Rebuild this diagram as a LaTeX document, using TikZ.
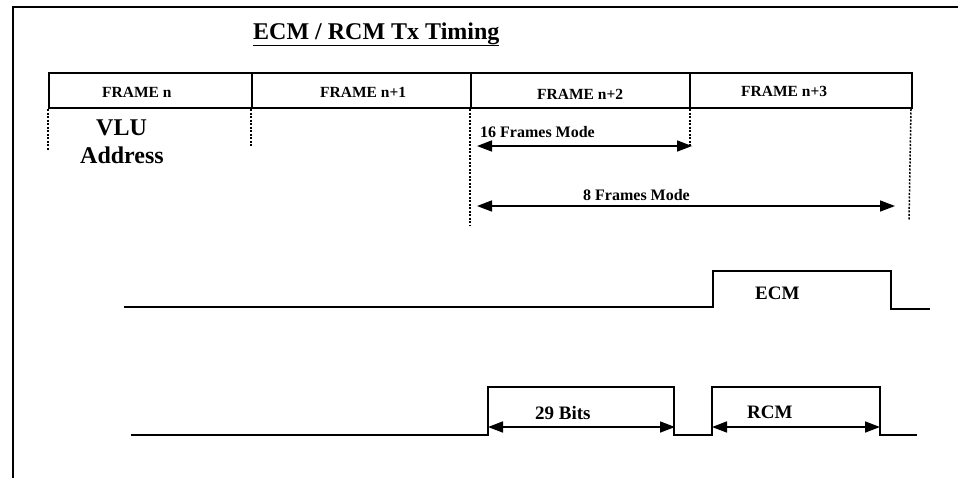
\documentclass[tikz,border=0pt]{standalone}
\usepackage{fontspec}
\setmainfont{Liberation Serif}
\usetikzlibrary{arrows.meta}
\tikzset{
  cell/.style={draw, line width=2pt, minimum height=35pt, inner sep=0pt, anchor=north west},
  lbl/.style={inner sep=0pt, anchor=base west, font=\bfseries\fontsize{15.5}{18}\selectfont},
  midlbl/.style={inner sep=0pt, anchor=base west, font=\bfseries\fontsize{16}{19}\selectfont},
  siglbl/.style={inner sep=0pt, anchor=base west, font=\bfseries\fontsize{19}{22}\selectfont},
  biglbl/.style={inner sep=0pt, anchor=base west, font=\bfseries\fontsize{24}{28}\selectfont},
  guide/.style={line width=1.5pt, dash pattern=on 2pt off 1.5pt},
  span/.style={line width=1.6pt, {Triangle[length=15pt,width=11pt]}-{Triangle[length=15pt,width=11pt]}},
  signal/.style={line width=2pt, line join=miter},
}
\begin{document}
\begin{tikzpicture}[x=1pt,y=-1pt]
\clip (0,0) rectangle (958,477);
\fill[white] (0,0) rectangle (958,477);
\draw[line width=1.6pt] (13,7) rectangle (975,495);
% title
\node[biglbl] (title) at (253,39) {\underline{ECM / RCM Tx Timing}};
% frame cells
\node[cell, minimum width=203pt] (f0) at (48,72) {};
\node[cell, minimum width=219pt] (f1) at (251,72) {};
\node[cell, minimum width=219pt] (f2) at (470,72) {};
\node[cell, minimum width=222pt] (f3) at (689,72) {};
\node[lbl] (t0) at (102,97) {FRAME n};
\node[lbl] (t1) at (320,97) {FRAME n+1};
\node[lbl] (t2) at (537,99) {FRAME n+2};
\node[lbl] (t3) at (741,96.5) {FRAME n+3};
% VLU address
\node[biglbl] (vlu) at (96,135) {VLU};
\node[biglbl] (addr) at (80,163) {Address};
% dotted guides
\coordinate (g0) at (48,150);
\coordinate (g1) at (251,147);
\coordinate (g2) at (470,225);
\coordinate (g3) at (690,147);
\coordinate (g4) at (909,220);
\draw[guide] (f0.south west) -- (g0);
\draw[guide] (f1.south west) -- (g1);
\draw[guide] (f2.south west) -- (g2);
\draw[guide] (f3.south west) ++(1,0) -- (g3);
\draw[guide] (f3.south east) ++(-2,0) -- (g4);
% mode spans
\node[midlbl] (m16) at (480,137) {16 Frames Mode};
\node[midlbl] (m8) at (583,200) {8 Frames Mode};
\coordinate (a16l) at (477,146);
\coordinate (a16r) at (692,146);
\coordinate (a8l) at (477,206);
\coordinate (a8r) at (895,206);
\draw[span] (a16l) -- (a16r);
\draw[span] (a8l) -- (a8r);
% ECM signal
\coordinate (e0) at (124,307);
\coordinate (e1) at (713,307);
\coordinate (e2) at (713,271);
\coordinate (e3) at (891,271);
\coordinate (e4) at (891,309);
\coordinate (e5) at (930,309);
\draw[signal] (e0) -- (e1) -- (e2) -- (e3) -- (e4) -- (e5);
\node[siglbl] (ecm) at (755,299) {ECM};
% RCM signal
\coordinate (r0) at (131,435);
\coordinate (r1) at (488,435);
\coordinate (r2) at (488,387);
\coordinate (r3) at (674,387);
\coordinate (r4) at (674,435);
\coordinate (r5) at (712,435);
\coordinate (r6) at (712,387);
\coordinate (r7) at (880,387);
\coordinate (r8) at (880,435);
\coordinate (r9) at (917,435);
\draw[signal] (r0) -- (r1) -- (r2) -- (r3) -- (r4) -- (r5) -- (r6) -- (r7) -- (r8) -- (r9);
\node[siglbl] (bits) at (535,419) {29 Bits};
\node[siglbl] (rcm) at (747,418) {RCM};
\coordinate (b1) at (488,427);
\coordinate (b2) at (675,427);
\coordinate (c1) at (712,427);
\coordinate (c2) at (880,427);
\draw[span] (b1) -- (b2);
\draw[span] (c1) -- (c2);
\end{tikzpicture}
\end{document}
